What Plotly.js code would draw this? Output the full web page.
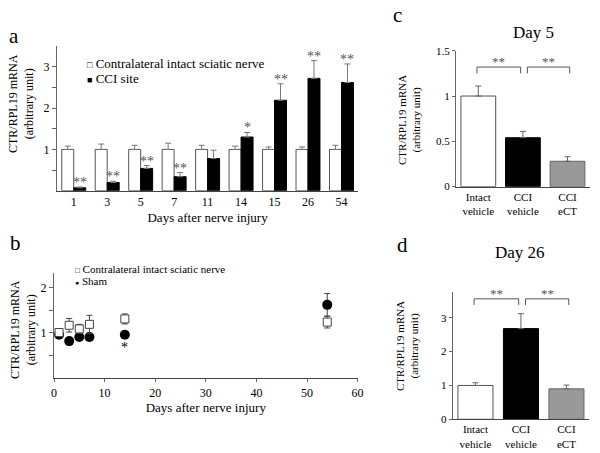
<!DOCTYPE html>
<html>
<head>
<meta charset="utf-8">
<script src="https://cdn.plot.ly/plotly-3.0.1.min.js"></script>
<style>html,body{margin:0;padding:0;background:#fff;}#chart{width:600px;height:453px;}</style>
</head>
<body>
<div id="chart"></div>
<script>
// ---- Panel a data ----
const daysA = ['1','3','5','7','11','14','15','26','54'];
const contraA = [1,1,1,1,1,1,1,1,1];
const contraAErr = [0.08,0.13,0.1,0.15,0.1,0.08,0.06,0.06,0.1];
const cciA = [0.07,0.2,0.54,0.34,0.78,1.3,2.19,2.72,2.62];
const cciAErr = [0.02,0.03,0.07,0.1,0.2,0.11,0.4,0.43,0.45];
const sigA = ['**','**','**','**','','*','**','**','**'];
const seriesA = ['Contralateral intact sciatic nerve','CCI site'];

// ---- Panel b data ----
const daysB = [1,3,5,7,14,54];
const contraB = [1.01,1.17,1.09,1.19,1.31,1.24];
const contraBErr = [0.05,0.15,0.1,0.2,0.11,0.13];
const shamB = [0.96,0.82,0.91,0.91,0.96,1.62];
const shamBErr = [0.07,0.08,0.05,0.08,0.03,0.25];
const sigB = ['','','','','*',''];
const seriesB = ['Contralateral intact sciatic nerve','Sham'];

// ---- Panels c, d data ----
const groupsCD = ['Intact<br>vehicle','CCI<br>vehicle','CCI<br>eCT'];
const day5Vals = [1.0,0.54,0.28];
const day5Err = [0.11,0.07,0.05];
const day26Vals = [1.0,2.68,0.9];
const day26Err = [0.08,0.44,0.11];
const sigPairs = [[0,1,'**'],[1,2,'**']];
const sigLevelC = 1.32;
const sigLevelD = 3.56;

const FONT = 'Liberation Serif, Times New Roman, serif';
const zeros = n => new Array(n).fill(0);
const barColors = ['#ffffff','#000000','#999999'];
const barLines = ['#555555','#000000','#666666'];

const traces = [
  {type:'bar', x:daysA, y:contraA, name:seriesA[0], xaxis:'x', yaxis:'y', showlegend:false,
   marker:{color:'#ffffff', line:{color:'#555', width:1}},
   error_y:{type:'data', array:contraAErr, arrayminus:zeros(9), symmetric:false, color:'#777', thickness:1, width:3}},
  {type:'bar', x:daysA, y:cciA, name:seriesA[1], xaxis:'x', yaxis:'y', showlegend:false,
   marker:{color:'#000000', line:{color:'#000', width:1}},
   error_y:{type:'data', array:cciAErr, arrayminus:zeros(9), symmetric:false, color:'#777', thickness:1, width:3}},
  {type:'scatter', mode:'markers', x:daysB, y:shamB, name:seriesB[1], xaxis:'x2', yaxis:'y2', showlegend:false,
   marker:{symbol:'circle', color:'#000', size:10},
   error_y:{type:'data', array:shamBErr, color:'#444', thickness:1, width:3}},
  {type:'scatter', mode:'markers', x:daysB, y:contraB, name:seriesB[0], xaxis:'x2', yaxis:'y2', showlegend:false,
   marker:{symbol:'square', color:'#fff', size:8, line:{color:'#444', width:1}},
   error_y:{type:'data', array:contraBErr, color:'#444', thickness:1, width:3}},
  {type:'bar', x:groupsCD, y:day5Vals, xaxis:'x3', yaxis:'y3', showlegend:false, width:0.78,
   marker:{color:barColors, line:{color:barLines, width:1}},
   error_y:{type:'data', array:day5Err, arrayminus:zeros(3), symmetric:false, color:'#666', thickness:1, width:3}},
  {type:'bar', x:groupsCD, y:day26Vals, xaxis:'x4', yaxis:'y4', showlegend:false, width:0.77,
   marker:{color:barColors, line:{color:barLines, width:1}},
   error_y:{type:'data', array:day26Err, arrayminus:zeros(3), symmetric:false, color:'#666', thickness:1, width:3}}
];

const ax = {showline:true, linecolor:'#444', linewidth:1, showgrid:false, zeroline:false,
  tickfont:{family:FONT, size:12, color:'#000'}, fixedrange:true};

const annotations = [];
// significance stars panel a (category index used as x)
daysA.forEach((d,i)=>{
  if(sigA[i]) annotations.push({x:i, y:cciA[i]+cciAErr[i], xref:'x', yref:'y', text:sigA[i], showarrow:false,
    xshift:6, yanchor:'bottom', yshift:-5, font:{family:FONT, size:14, color:'#555'}});
});
// panel b stars
daysB.forEach((d,i)=>{
  if(sigB[i]) annotations.push({x:d, y:shamB[i], xref:'x2', yref:'y2', text:sigB[i], showarrow:false,
    yanchor:'top', yshift:-3, font:{family:FONT, size:14, color:'#000'}});
});
// brackets panels c, d
const shapes = [];
[['x3','y3',sigLevelC,0.07],['x4','y4',sigLevelD,0.18]].forEach(([xr,yr,lvl,drop])=>{
  sigPairs.forEach(([a,b,txt],k)=>{
    const x0 = k===0 ? a-0.03 : a+0.1;
    const x1 = k===0 ? b-0.05 : b+0.05;
    shapes.push({type:'path', xref:xr, yref:yr, path:`M ${x0},${lvl-drop} L ${x0},${lvl} L ${x1},${lvl} L ${x1},${lvl-drop}`,
      line:{color:'#555', width:1}});
    annotations.push({x:(x0+x1)/2, y:lvl, xref:xr, yref:yr, text:txt, showarrow:false, yanchor:'bottom', yshift:-4,
      font:{family:FONT, size:13, color:'#555'}});
  });
});
// legends (as text entries, small glyph + label)
const glyph = (ch, fs) => `<span style="font-size:${fs}px">${ch}</span> `;
[[glyph('\u25A1',9)+seriesA[0],85,63,13],[glyph('\u25A0',9)+seriesA[1],85,78,13],
 [glyph('\u25A1',8)+seriesB[0],73,269,11],[glyph('\u25CF',7)+seriesB[1],73,281,11]].forEach(([t,px,py,fs])=>{
  annotations.push({x:px/600, y:1-py/453, xref:'paper', yref:'paper', text:t, showarrow:false,
    xanchor:'left', yanchor:'middle', font:{family:FONT, size:fs, color:'#000'}});
});
// panel letters
[['a',14,36],['b',15,243],['c',397,15],['d',402,245]].forEach(([t,px,py])=>{
  annotations.push({x:px/600, y:1-py/453, xref:'paper', yref:'paper', text:t, showarrow:false,
    xanchor:'center', yanchor:'middle', font:{family:FONT, size:21, color:'#000'}});
});
// panel titles
annotations.push({x:533/600, y:1-32/453, xref:'paper', yref:'paper', text:'Day 5', showarrow:false,
  xanchor:'center', yanchor:'middle', font:{family:FONT, size:17, color:'#000'}});
annotations.push({x:520/600, y:1-253/453, xref:'paper', yref:'paper', text:'Day 26', showarrow:false,
  xanchor:'center', yanchor:'middle', font:{family:FONT, size:17, color:'#000'}});
// y-axis titles
const ytitle = 'CTR/RPL19 mRNA<br>(arbitrary unit)';
[[21,104,12],[23,330,12],[409,120,11],[407,346,11]].forEach(([px,py,fs])=>{
  annotations.push({x:px/600, y:1-py/453, xref:'paper', yref:'paper', text:ytitle, showarrow:false, textangle:-90,
    xanchor:'center', yanchor:'middle', font:{family:FONT, size:fs, color:'#000'}});
});

const layout = {
  width:600, height:453, margin:{l:0,r:0,t:0,b:0}, paper_bgcolor:'#fff', plot_bgcolor:'rgba(0,0,0,0)',
  font:{family:FONT, color:'#000'}, barmode:'group', bargap:0.284, bargroupgap:0, showlegend:false,
  xaxis:Object.assign({}, ax, {domain:[0.095,0.597], anchor:'y', type:'category', range:[-0.5,8.5], ticks:'',
    title:{text:'Days after nerve injury', font:{family:FONT, size:13}, standoff:4}}),
  yaxis:Object.assign({}, ax, {domain:[0.579,0.898], anchor:'x', range:[0,3.5], linecolor:'#666',
    tickvals:[0.5,1,1.5,2,2.5,3], ticktext:['','1','','2','','3'], ticks:'outside', ticklen:4, tickcolor:'#666'}),
  xaxis2:Object.assign({}, ax, {domain:[0.09,0.596], anchor:'y2', range:[0,60], dtick:10, ticks:'outside', ticklen:3, tickcolor:'#666',
    title:{text:'Days after nerve injury', font:{family:FONT, size:13}, standoff:4}}),
  yaxis2:Object.assign({}, ax, {domain:[0.165,0.397], anchor:'x2', range:[0,2.32], linecolor:'#666',
    tickvals:[0.5,1,1.5,2], ticktext:['','1','','2'], ticks:'outside', ticklen:4, tickcolor:'#666'}),
  xaxis3:Object.assign({}, ax, {domain:[0.76,0.983], anchor:'y3', type:'category', range:[-0.5,2.5], ticks:'',
    tickfont:{family:FONT, size:11, color:'#000'}}),
  yaxis3:Object.assign({}, ax, {domain:[0.588,0.888], anchor:'x3', range:[0,1.5], linecolor:'#666',
    tickvals:[0,0.5,1,1.5], ticktext:['0','0.5','1','1.5'], ticks:'outside', ticklen:3, tickcolor:'#666',
    tickfont:{family:FONT, size:11, color:'#000'}}),
  xaxis4:Object.assign({}, ax, {domain:[0.7545,0.982], anchor:'y4', type:'category', range:[-0.5,2.5], ticks:'',
    tickfont:{family:FONT, size:11, color:'#000'}}),
  yaxis4:Object.assign({}, ax, {domain:[0.0744,0.356], anchor:'x4', range:[0,3.77], linecolor:'#666',
    tickvals:[0,1,2,3], ticks:'outside', ticklen:3, tickcolor:'#666',
    tickfont:{family:FONT, size:11, color:'#000'}}),
  annotations:annotations, shapes:shapes
};

Plotly.newPlot('chart', traces, layout, {displayModeBar:false, staticPlot:true});
</script>
</body>
</html>
